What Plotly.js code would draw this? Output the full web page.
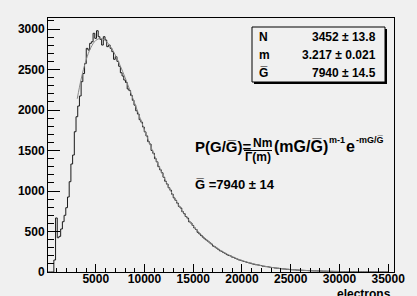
<!DOCTYPE html>
<html><head><meta charset="utf-8">
<script src="https://cdn.plot.ly/plotly-3.0.1.min.js"></script>
<style>html,body{margin:0;padding:0;background:#f0f0f0;}</style>
</head><body>
<div id="chart" style="width:417px;height:296px;"></div>
<script>
// ---- data ----
const binStart = 0;
const binWidth = 175;
const counts = [
0,0,0,0,148,667,423,440,531,621,
700,794,926,1115,1333,1444,1732,1917,2049,2173,
2350,2450,2573,2761,2740,2823,2843,2947,2885,2979,
2905,2873,2802,2905,2864,2782,2802,2761,2720,2626,
2658,2600,2540,2460,2420,2370,2340,2260,2240,2180,
2120,2060,1990,1950,1880,1850,1790,1730,1680,1610,
1580,1500,1465,1400,1360,1300,1262,1225,1170,1120,
1085,1040,1010,960,915,885,850,810,790,745,
720,685,665,620,605,575,545,525,490,470,
450,430,410,395,380,360,345,320,310,295,
280,262,255,240,230,215,205,200,185,180,
168,160,150,145,138,130,125,118,112,108,
100,95,90,88,84,80,72,70,66,65,
60,56,55,50,48,46,44,40,38,37,
34,33,30,28,27,26,24,23,22,21,
20,19,18,17,16,15,14,14,13,12,
12,11,10,10,9,9,8,8,7,7,
7,6,6,6,5,5,5,4,4,4,
4,3,3,3,3,3,2,2,2,2,
2,2,2,1,1,1,1,1,1,1
];
const fitX = [3100,3500,4000,4500,5000,5500,6000,6500,7000,7500,8000,8500,9000,9500,10000,11000,12000,13000,14000,15000,16000,17000,18000,19000,20000,22000,24000,26000,28000,30000,32000,35000];
const fitY = [2139,2381,2614,2771,2859,2883,2855,2785,2680,2550,2403,2245,2081,1916,1752,1444,1168,930,731,568,437,333,252,190,142,78,42,22,12,6,3,1];
const statNames = ["N","m","G\u0305"];
const statValues = ["3452 \u00b1 13.8","3.217 \u00b1 0.021","7940 \u00b1 14.5"];
const xTitle = "electrons";
const meanText = "G\u0305 =7940 \u00b1 14";

// ---- build histogram outline ----
const hx = [], hy = [];
for (let i = 0; i < counts.length; i++) { hx.push(binStart + i*binWidth); hy.push(counts[i]); }
hx.push(binStart + counts.length*binWidth); hy.push(counts[counts.length-1]);

// pixel -> paper helpers (plot area: l=48, r=394, t=18, b=272)
const L=48,R=394,T=18,B=272;
const px = x => (x-L)/(R-L);
const py = y => (B-y)/(B-T);
const FF = "Liberation Sans, Arial, sans-serif";
const ann = (text,x,y,size,xa) => ({text:text,x:px(x),y:py(y),xref:'paper',yref:'paper',xanchor:xa||'left',yanchor:'middle',showarrow:false,font:{family:FF,size:size,color:'#000',weight:'bold'}});

const annotations = [
  ann("P(G/G\u0305)=",193,146,15),
  ann("Nm",262,143,12,'center'),
  ann("\u0393(m)",258,157,12,'center'),
  ann("(mG/G\u0305)",272,146,16),
  ann("m-1",327,140,9),
  ann("e",344,146,16),
  ann("-mG/G\u0305",354,140,9),
  ann(meanText,193,185,13),
  ann(statNames[0],257,37,12), ann(statValues[0],378,37,12,'right'),
  ann(statNames[1],257,55,12), ann(statValues[1],378,55,12,'right'),
  ann(statNames[2],257,73,12), ann(statValues[2],378,73,12,'right'),
  ann(xTitle,393,294,12,'right')
];
const line = (x0,y0,x1,y1,w) => ({type:'line',xref:'paper',yref:'paper',x0:px(x0),y0:py(y0),x1:px(x1),y1:py(y1),line:{color:'#000',width:w||1}});
const shapes = [
  {type:'rect',xref:'paper',yref:'paper',x0:px(252),y0:py(27),x1:px(385),y1:py(82),line:{color:'#000',width:1},fillcolor:'rgba(0,0,0,0)'},
  line(386,29,386,84,2), line(254,83,387,83,2),
  line(244,150.5,272,150.5,1)
];

const traces = [
  {x:hx,y:hy,type:'scatter',mode:'lines',line:{shape:'hv',color:'#1a1a1a',width:1},hoverinfo:'skip'},
  {x:fitX,y:fitY,type:'scatter',mode:'lines',line:{shape:'spline',color:'#888',width:1},hoverinfo:'skip'}
];
const axisCommon = {showgrid:false,zeroline:false,showline:true,linecolor:'#000',linewidth:1,mirror:true,ticks:'inside',tickcolor:'#000',tickformat:'d',tickfont:{family:FF,size:12,color:'#000',weight:'bold'}};
const layout = {
  width:417,height:296,margin:{l:L,r:417-R,t:T,b:296-B},
  paper_bgcolor:'#f0f0f0',plot_bgcolor:'#f0f0f0',showlegend:false,
  xaxis:Object.assign({},axisCommon,{range:[100,35600],dtick:5000,tick0:0,ticklen:8,ticklabelstandoff:-4,minor:{dtick:1000,ticklen:4,ticks:'inside',tickcolor:'#000'}}),
  yaxis:Object.assign({},axisCommon,{range:[0,3136],dtick:500,tick0:0,ticklen:12,minor:{dtick:100,ticklen:6,ticks:'inside',tickcolor:'#000'}}),
  annotations:annotations,shapes:shapes
};
Plotly.newPlot('chart',traces,layout,{staticPlot:true});
</script>
</body></html>
